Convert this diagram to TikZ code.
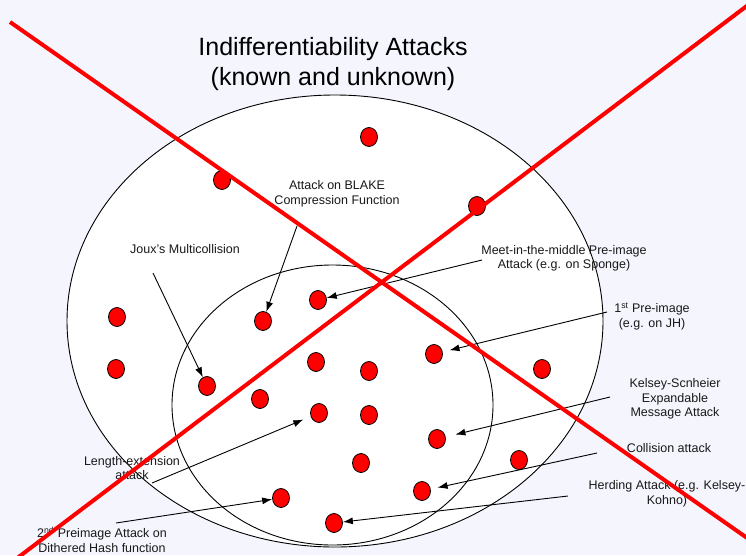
\documentclass[tikz,border=0pt]{standalone}
\usepackage{fontspec}
\setmainfont{Liberation Sans}
\usetikzlibrary{shapes.geometric,arrows.meta}
\definecolor{bgc}{RGB}{245,245,254}
\definecolor{redx}{RGB}{255,0,0}
\begin{document}
\begin{tikzpicture}[x=1pt,y=-1pt,
  dot/.style={ellipse,draw=black,line width=0.8pt,fill=redx,minimum width=17pt,minimum height=19pt,inner sep=0pt},
  ring/.style={ellipse,draw=black,line width=0.9pt,inner sep=0pt},
  lbl/.style={align=center,font=\fontsize{12.5}{14.5}\selectfont,inner sep=0pt,text=black!90},
  ttl/.style={align=center,font=\fontsize{25}{30}\selectfont,inner sep=0pt},
  arr/.style={draw=black,line width=0.9pt,-{Latex[length=10pt,width=7pt]}},
  cross/.style={draw=redx,line width=4pt}]
\fill[bgc] (0,0) rectangle (746,555);
\useasboundingbox (0,0) rectangle (746,555);

% ellipses
\node[ring,fill=white,minimum width=536pt,minimum height=452pt] (outer) at (335,321) {};
\node[ring,minimum width=321pt,minimum height=280pt] (inner) at (332.5,405) {};

% dots
\node[dot] (d1) at (369,137) {};
\node[dot] (d2) at (222,180) {};
\node[dot] (d3) at (477,206) {};
\node[dot] (d4) at (117,317) {};
\node[dot] (d5) at (116,369) {};
\node[dot] (dMitm) at (318,300) {};
\node[dot] (dBlake) at (263,321) {};
\node[dot] (dJoux) at (207,386) {};
\node[dot] (d9) at (316,362) {};
\node[dot] (d10) at (369,371) {};
\node[dot] (dPre) at (434,354) {};
\node[dot] (d12) at (542,369) {};
\node[dot] (d13) at (260,399) {};
\node[dot] (dLen) at (319,413) {};
\node[dot] (d15) at (369,415) {};
\node[dot] (dKS) at (437,439) {};
\node[dot] (d17) at (361,463) {};
\node[dot] (d18) at (519,460) {};
\node[dot] (dCol) at (422,491) {};
\node[dot] (dSec) at (281,498) {};
\node[dot] (dHerd) at (334,523) {};

% labels
\node[ttl] (title) at (333,64) {Indifferentiability Attacks\\(known and unknown)};
\node[lbl] (lBlake) at (337,194) {Attack on BLAKE\\Compression Function};
\node[lbl] (lJoux) at (185,249) {Joux’s Multicollision};
\node[lbl] (lMitm) at (564,258.5) {Meet-in-the-middle Pre-image\\Attack (e.g. on Sponge)};
\node[lbl] (lPre) at (652,316.5) {1\textsuperscript{st} Pre-image\\(e.g. on JH)};
\node[lbl] (lKS) at (675,399) {Kelsey-Scnheier\\Expandable\\Message Attack};
\node[lbl] (lCol) at (669,448) {Collision attack};
\node[lbl] (lHerd) at (667,494) {Herding Attack (e.g. Kelsey-\\Kohno)};
\node[lbl] (lLen) at (132,468) {Length-extension\\attack};
\node[lbl] (lSec) at (102,539.5) {2\textsuperscript{nd} Preimage Attack on\\Dithered Hash function};

% arrow start points
\coordinate (aBlake) at (297,226);
\coordinate (aJoux) at (153,273);
\coordinate (aMitm) at (482,260);
\coordinate (aPre) at (607,312);
\coordinate (aKS) at (610,397);
\coordinate (aCol) at (597,453);
\coordinate (aHerd) at (568,496);
\coordinate (aLen) at (152,483);
\coordinate (aSec) at (116,523);

\draw[arr] (aBlake) -- (dBlake);
\draw[arr] (aJoux) -- (dJoux);
\draw[arr] (aMitm) -- (dMitm);
\draw[arr,shorten >=7pt] (aPre) -- (dPre);
\draw[arr,shorten >=10pt] (aKS) -- (dKS);
\draw[arr,shorten >=7pt] (aCol) -- (dCol);
\draw[arr] (aHerd) -- (dHerd);
\draw[arr,shorten >=8pt] (aLen) -- (dLen);
\draw[arr] (aSec) -- (dSec);

% red cross
\coordinate (r1a) at (10,22);
\coordinate (r1b) at (760,547);
\coordinate (r2a) at (752,2);
\coordinate (r2b) at (16,559);
\draw[cross] (r1a) -- (r1b);
\draw[cross] (r2a) -- (r2b);
\end{tikzpicture}
\end{document}
